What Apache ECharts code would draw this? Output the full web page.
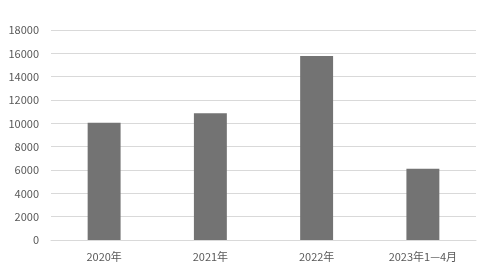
<!DOCTYPE html>
<html>
<head>
<meta charset="utf-8">
<script src="https://cdn.jsdelivr.net/npm/echarts@6/dist/echarts.min.js"></script>
<style>html,body{margin:0;padding:0;background:#fff;}#c{width:480px;height:271px;}</style>
</head>
<body>
<div id="c"></div>
<script>
const categories = ['2020年', '2021年', '2022年', '2023年1—4月'];
const values = [10050, 10860, 15770, 6110];
const yMin = 0, yMax = 18000, yStep = 2000;

const chart = echarts.init(document.getElementById('c'), null, {renderer: 'canvas'});
chart.setOption({
  animation: false,
  backgroundColor: '#ffffff',
  grid: {left: 51, right: 4, top: 30, bottom: 31, containLabel: false},
  xAxis: {
    type: 'category',
    data: categories,
    axisLine: {show: true, lineStyle: {color: '#d9d9d9', width: 1}},
    axisTick: {show: false},
    axisLabel: {color: '#595959', fontSize: 11, margin: 11, fontFamily: '"Noto Sans CJK SC", sans-serif'}
  },
  yAxis: {
    type: 'value',
    min: yMin, max: yMax, interval: yStep,
    axisLine: {show: false},
    axisTick: {show: false},
    splitLine: {lineStyle: {color: '#d9d9d9', width: 1}},
    axisLabel: {color: '#595959', fontSize: 11, margin: 12, fontFamily: '"Noto Sans CJK SC", sans-serif',
      formatter: v => String(v)}
  },
  series: [{
    type: 'bar',
    data: values,
    barWidth: '31%',
    itemStyle: {color: '#737373'}
  }]
});
</script>
</body>
</html>
